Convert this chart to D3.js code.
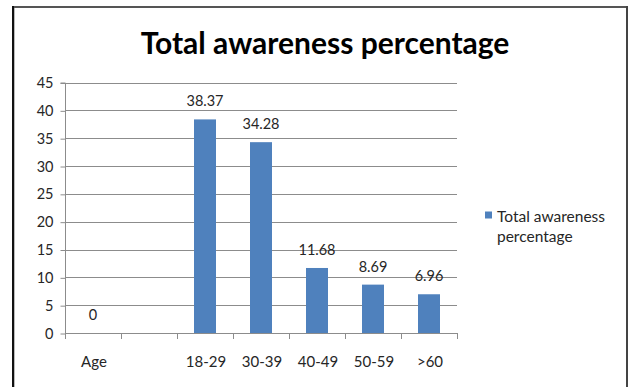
<!DOCTYPE html>
<html>
<head>
<meta charset="utf-8">
<script src="https://cdn.jsdelivr.net/npm/d3@7"></script>
<style>
  html, body { margin: 0; padding: 0; background: #fff; }
  svg { display: block; }
  text { font-family: Lato, "Open Sans", "DejaVu Sans", sans-serif; }
</style>
</head>
<body>
<svg id="chart" width="629" height="387"></svg>
<script>
// Age groups and the share of respondents aware, per group
const categories = ["Age", "", "18-29", "30-39", "40-49", "50-59", ">60"];
const values = [0, null, 38.37, 34.28, 11.68, 8.69, 6.96];
const yTicks = [0, 5, 10, 15, 20, 25, 30, 35, 40, 45];
const seriesName = "Total awareness percentage";
const chartTitle = "Total awareness percentage";

const svg = d3.select("#chart");
const W = 629, H = 387;
const plot = { left: 65, right: 457, top: 82.5, bottom: 333 };
const barColor = "#4F81BD";
const textColor = "#262626";
const fs = 14.5;

// Outer frame
svg.append("rect").attr("x", 0).attr("y", 0).attr("width", W).attr("height", H).attr("fill", "#fff");
svg.append("line").attr("x1", 12).attr("x2", 628).attr("y1", 7).attr("y2", 7)
  .attr("stroke", "#555").attr("stroke-width", 2);
svg.append("line").attr("x1", 13).attr("x2", 13).attr("y1", 6).attr("y2", H)
  .attr("stroke", "#111").attr("stroke-width", 2);
svg.append("line").attr("x1", 14.5).attr("x2", 14.5).attr("y1", 8).attr("y2", H)
  .attr("stroke", "#bbb").attr("stroke-width", 1);
svg.append("line").attr("x1", 627).attr("x2", 627).attr("y1", 6).attr("y2", H)
  .attr("stroke", "#444").attr("stroke-width", 2);

// Title
svg.append("text")
  .attr("x", 325).attr("y", 54)
  .attr("text-anchor", "middle")
  .attr("font-weight", "bold")
  .attr("font-size", 30)
  .attr("fill", "#000")
  .text(chartTitle);

const x = d3.scaleBand().domain(d3.range(categories.length))
  .range([plot.left, plot.right]).paddingInner(0).paddingOuter(0);
const y = d3.scaleLinear().domain([0, 45]).range([plot.bottom, plot.top]);

// Gridlines
svg.append("g").selectAll("line").data(yTicks.filter(t => t > 0)).join("line")
  .attr("x1", plot.left).attr("x2", plot.right)
  .attr("y1", d => Math.round(y(d)) + 0.5).attr("y2", d => Math.round(y(d)) + 0.5)
  .attr("stroke", "#8c8c8c").attr("stroke-width", 1);

// Y axis
const yAxis = d3.axisLeft(y).tickValues(yTicks).tickSize(5).tickPadding(7);
const gy = svg.append("g").attr("transform", `translate(${plot.left + 0.5},0.5)`).call(yAxis);
gy.select(".domain").attr("stroke", "#8c8c8c").attr("d", `M-5,${y(45)}H0V${y(0)}`);
gy.selectAll(".tick line").attr("stroke", "#8c8c8c");
gy.selectAll(".tick text").attr("font-size", fs).attr("fill", textColor)
  .attr("font-family", "Lato, 'Open Sans', sans-serif");

// X axis: ticks at category boundaries
const boundaries = d3.range(categories.length + 1).map(i => plot.left + i * x.bandwidth());
const gx = svg.append("g");
gx.append("line").attr("x1", plot.left).attr("x2", plot.right + 1)
  .attr("y1", Math.round(y(0)) + 0.5).attr("y2", Math.round(y(0)) + 0.5)
  .attr("stroke", "#8c8c8c");
gx.selectAll("line.tk").data(boundaries).join("line").attr("class", "tk")
  .attr("x1", d => Math.round(d) + 0.5).attr("x2", d => Math.round(d) + 0.5)
  .attr("y1", Math.round(y(0)) + 0.5).attr("y2", Math.round(y(0)) + 6)
  .attr("stroke", "#8c8c8c");
gx.selectAll("text").data(categories).join("text")
  .attr("x", (d, i) => x(i) + x.bandwidth() / 2 + 1)
  .attr("y", 367)
  .attr("text-anchor", "middle")
  .attr("font-size", 15).attr("fill", textColor)
  .text(d => d);

// Bars
const barW = 22;
const data = values.map((v, i) => ({ i, v })).filter(d => d.v !== null);
svg.append("g").selectAll("rect").data(data.filter(d => d.v > 0)).join("rect")
  .attr("x", d => x(d.i) + x.bandwidth() / 2 - barW / 2)
  .attr("y", d => y(d.v))
  .attr("width", barW)
  .attr("height", d => y(0) - y(d.v))
  .attr("fill", barColor);

// Value labels
svg.append("g").selectAll("text").data(data).join("text")
  .attr("x", d => x(d.i) + x.bandwidth() / 2)
  .attr("y", d => y(d.v) - 13)
  .attr("text-anchor", "middle")
  .attr("font-size", fs).attr("fill", textColor)
  .text(d => d.v);

// Legend: series name wrapped onto two lines
const words = seriesName.split(" ");
const legendLines = [words.slice(0, -1).join(" "), words[words.length - 1]];
const lg = svg.append("g");
lg.append("rect").attr("x", 485).attr("y", 211.5).attr("width", 7).attr("height", 7).attr("fill", barColor);
lg.selectAll("text").data(legendLines).join("text")
  .attr("x", 497).attr("y", (d, i) => 222 + i * 20)
  .attr("font-size", 15.5).attr("fill", textColor)
  .text(d => d);
</script>
</body>
</html>
